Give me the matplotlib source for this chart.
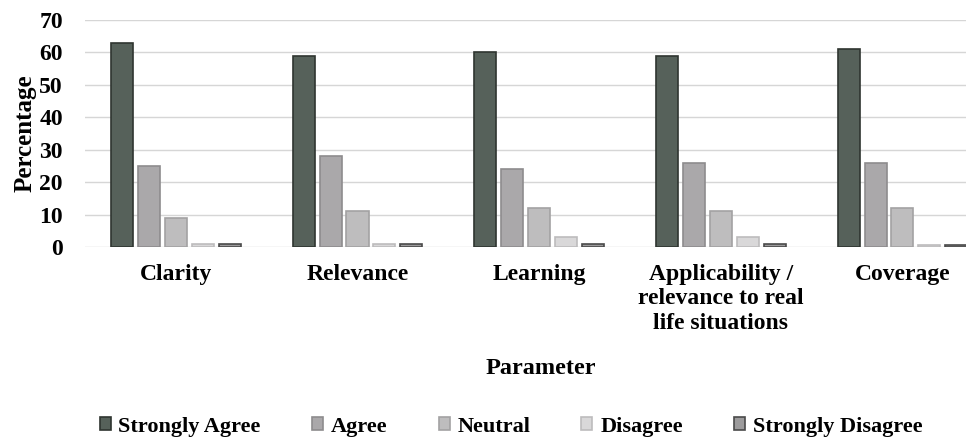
import numpy as np
import matplotlib
matplotlib.use("Agg")
import matplotlib.pyplot as plt

# survey responses, % of participants
parameters = ["Clarity", "Relevance", "Learning",
              "Applicability /\nrelevance to real\nlife situations", "Coverage"]
responses = ["Strongly Agree", "Agree", "Neutral", "Disagree", "Strongly Disagree"]
strongly_agree = [63, 59, 60, 59, 61]
agree = [25, 28, 24, 26, 26]
neutral = [9, 11, 12, 11, 12]
disagree = [1, 1, 3, 3, 0.5]
strongly_disagree = [1, 1, 1, 1, 0.5]

series = [strongly_agree, agree, neutral, disagree, strongly_disagree]
faces = ["#56615a", "#aaa8aa", "#bebdbe", "#d9d8d9", "#9c9b9c"]
edges = ["#2f3530", "#8e8c8e", "#a3a2a3", "#bdbcbd", "#4a4a4a"]

plt.rcParams['font.family'] = ['Liberation Serif', 'DejaVu Serif']
plt.rcParams['font.weight'] = 'bold'

fig = plt.figure(figsize=(9.66, 4.42), dpi=100)
ax = fig.add_axes([0.088, 0.441, 0.912, 0.514])

x = np.arange(len(parameters))
w = 0.148
for i, (vals, fc, ec) in enumerate(zip(series, faces, edges)):
    ax.bar(x + (i - 2) * w, vals, width=w * 0.82, color=fc, edgecolor=ec,
           linewidth=1.2, label=responses[i], zorder=3)

ax.set_ylim(0, 70)
ax.set_xlim(-0.5, 4.35)
ax.set_yticks(range(0, 71, 10))
ax.yaxis.grid(True, color="#d6d6d6", linewidth=1.0, zorder=0)
ax.set_axisbelow(True)
for s in ax.spines.values():
    s.set_visible(False)
ax.tick_params(axis="both", length=0, labelsize=17)
ax.tick_params(axis="y", pad=16)
ax.tick_params(axis="x", pad=12)
ax.set_xticks(x)
ax.set_xticklabels(parameters, fontsize=17, fontweight="bold", linespacing=1.22,
                   va="top")
for lab in ax.get_yticklabels():
    lab.set_fontweight("bold")

ax.set_ylabel("Percentage", fontsize=18, fontweight="bold", labelpad=2)
fig.text(0.56, 0.167, "Parameter", ha="center", va="center",
         fontsize=17.5, fontweight="bold")

handles, labels = ax.get_legend_handles_labels()
fig.legend(handles, labels, loc="center", bbox_to_anchor=(0.529, 0.035), ncol=5,
           frameon=False, fontsize=16, handlelength=0.5, handleheight=0.5,
           handletextpad=0.35, columnspacing=2.3)

fig.savefig("out.png", dpi=100, facecolor="white")
